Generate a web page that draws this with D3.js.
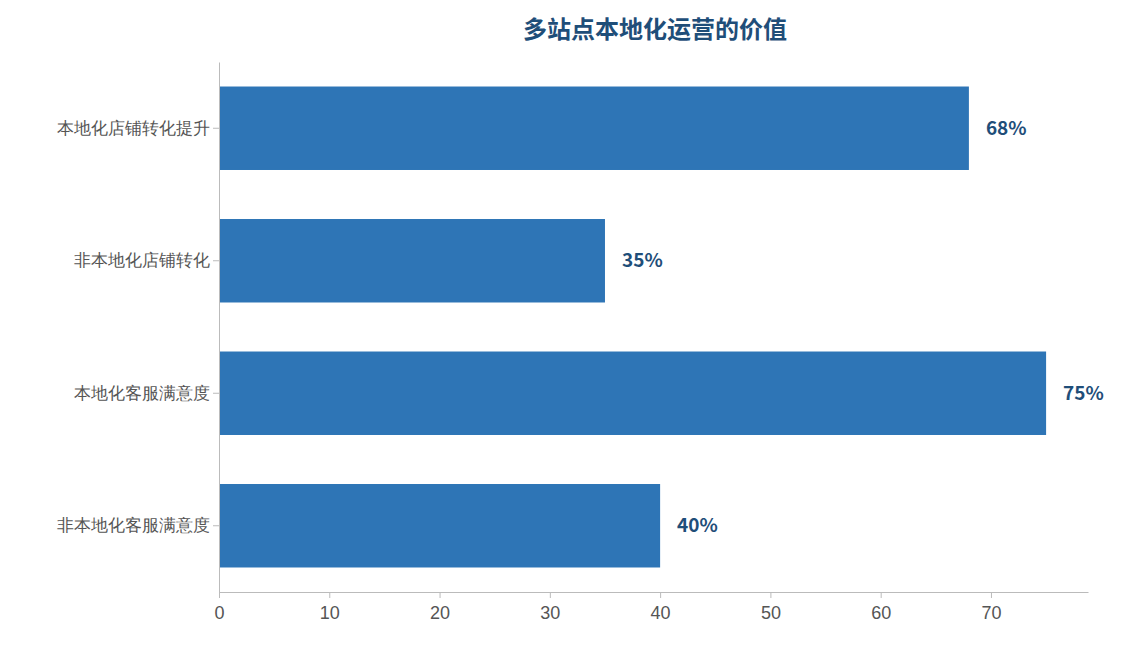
<!DOCTYPE html>
<html><head><meta charset="utf-8">
<script src="https://cdn.jsdelivr.net/npm/d3@7"></script>
<style>body{margin:0;background:#fff;font-family:"Noto Sans CJK SC","Noto Sans",sans-serif;}</style>
</head><body><svg id="c" width="1125" height="645"></svg>
<script>
const categories = ["本地化店铺转化提升","非本地化店铺转化","本地化客服满意度","非本地化客服满意度"];
const values = [68,35,75,40];
const xTicks = [0,10,20,30,40,50,60,70];
const title = "多站点本地化运营的价值";

const svg = d3.select("#c");
const m = {l:219, r:1088, t:62, b:592};
const x = d3.scaleLinear().domain([0,78.8]).range([m.l,m.r]);
const y = d3.scaleBand().domain(categories).range([m.t,m.b]).paddingInner(0.37).paddingOuter(0.185);

svg.append("text").attr("x",655).attr("y",38).attr("text-anchor","middle")
  .attr("font-size",24).attr("font-weight","bold").attr("fill","#1f4e79").text(title);

svg.selectAll("rect.bar").data(values).join("rect").attr("class","bar")
  .attr("x",x(0)).attr("y",(d,i)=>y(categories[i])).attr("width",d=>x(d)-x(0))
  .attr("height",y.bandwidth()).attr("fill","#2e75b6");

svg.selectAll("text.val").data(values).join("text").attr("class","val")
  .attr("x",d=>x(d)+17).attr("y",(d,i)=>y(categories[i])+y.bandwidth()/2)
  .attr("dy","0.35em").attr("font-size",19).attr("font-weight","bold").attr("fill","#1f4e79")
  .text(d=>d+"%");

const xa = svg.append("g").attr("transform",`translate(0,${m.b})`)
  .call(d3.axisBottom(x).tickValues(xTicks).tickSize(6).tickSizeOuter(0));
xa.selectAll("text").attr("font-size",18).attr("fill","#555").attr("dy","1em");
xa.selectAll("line,path").attr("stroke","#bbb");

const ya = svg.append("g").attr("transform",`translate(${m.l},0)`)
  .call(d3.axisLeft(y).tickSize(6).tickSizeOuter(0));
ya.selectAll("text").attr("font-size",17).attr("fill","#555");
ya.selectAll("line,path").attr("stroke","#bbb");
</script></body></html>
